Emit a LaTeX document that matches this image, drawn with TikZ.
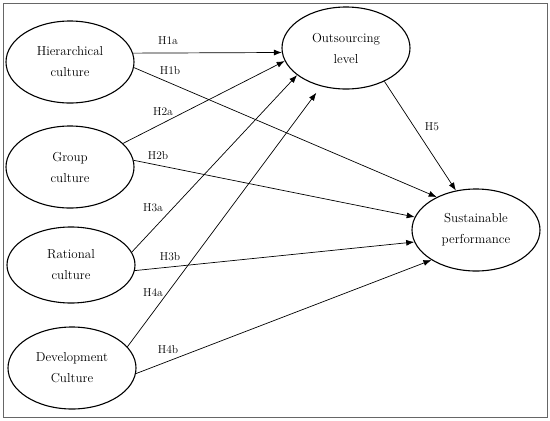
\documentclass[tikz,border=0pt]{standalone}
\usetikzlibrary{shapes.geometric,arrows.meta}
\begin{document}
\begin{tikzpicture}[x=1pt,y=-1pt,
  construct/.style={draw,line width=1.1pt,ellipse,minimum width=128pt,minimum height=82pt,inner sep=0pt,align=center,font=\fontsize{13}{21}\selectfont},
  path/.style={draw,line width=0.7pt,-{Latex[length=8pt,width=6pt]}},
  hlabel/.style={font=\fontsize{11.5}{13}\selectfont,inner sep=0pt}]
\useasboundingbox (0,0) rectangle (550,421);
\draw[gray!80!black,line width=1pt] (3,3) rectangle (547,417);
\node[construct] (h) at (70,62) {Hierarchical\\culture};
\node[construct] (g) at (70,167) {Group\\culture};
\node[construct,minimum height=76pt] (r) at (71,265) {Rational\\culture};
\node[construct] (d) at (72,368) {Development\\Culture};
\node[construct] (o) at (346,48) {Outsourcing\\level};
\node[construct] (s) at (476,230) {Sustainable\\performance};
\draw[path] (h.8) -- (o.184);
\draw[path] (h.-5) -- (s.140);
\draw[path] (g.24) -- (o.192);
\draw[path] (g.6) -- (s.168);
\draw[path] (r.12) -- (o.209);
\draw[path] (r.-5) -- (s.191);
\draw[path,shorten >=8pt] (d.21) -- (o.237);
\draw[path] (d.-5) -- (s.214);
\draw[path] (o.-41) -- (s.117);
\node[hlabel] (l1a) at (168,41) {H1a};
\node[hlabel] (l1b) at (170,71) {H1b};
\node[hlabel] (l2a) at (163,112) {H2a};
\node[hlabel] (l2b) at (158,156) {H2b};
\node[hlabel] (l3a) at (153,208) {H3a};
\node[hlabel] (l3b) at (170,257) {H3b};
\node[hlabel] (l4a) at (153,293) {H4a};
\node[hlabel] (l4b) at (168,350) {H4b};
\node[hlabel] (l5) at (432,127) {H5};
\end{tikzpicture}
\end{document}
